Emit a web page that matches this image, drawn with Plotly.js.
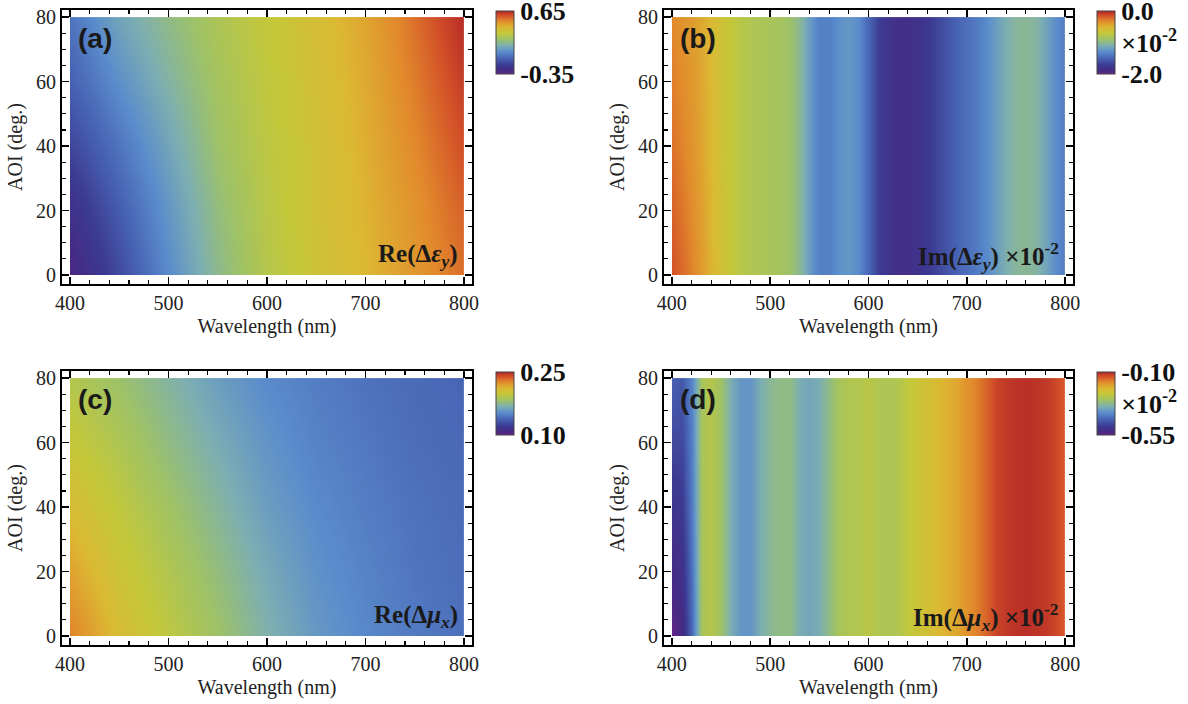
<!DOCTYPE html>
<html><head><meta charset="utf-8">
<script src="https://cdn.plot.ly/plotly-3.0.1.min.js"></script>
<style>body{margin:0;background:#fff}#chart{width:1188px;height:704px}</style>
</head><body><div id="chart"></div>
<script>
// ---------- DATA ----------
// Panels (a) and (c): coarse grid
const wavelengthCoarse = [400, 450, 500, 550, 600, 650, 700, 750, 800];
const aoiCoarse = [0, 20, 40, 60, 80];
// (a) Re(Δε_y), one row per AOI
const reEpsY_aoi0  = [-0.32, -0.17, 0.00, 0.15, 0.26, 0.33, 0.39, 0.46, 0.53];
const reEpsY_aoi20 = [-0.26, -0.12, 0.03, 0.17, 0.27, 0.34, 0.40, 0.47, 0.55];
const reEpsY_aoi40 = [-0.18, -0.06, 0.07, 0.20, 0.28, 0.34, 0.41, 0.49, 0.58];
const reEpsY_aoi60 = [-0.11, 0.01, 0.12, 0.22, 0.29, 0.35, 0.42, 0.51, 0.61];
const reEpsY_aoi80 = [-0.06, 0.07, 0.16, 0.24, 0.30, 0.36, 0.43, 0.53, 0.64];
// (c) Re(Δμ_x)
const reMuX_aoi0  = [0.228, 0.208, 0.195, 0.183, 0.169, 0.158, 0.151, 0.146, 0.142];
const reMuX_aoi20 = [0.218, 0.202, 0.190, 0.178, 0.165, 0.155, 0.149, 0.144, 0.141];
const reMuX_aoi40 = [0.208, 0.196, 0.184, 0.172, 0.160, 0.152, 0.147, 0.143, 0.140];
const reMuX_aoi60 = [0.199, 0.189, 0.177, 0.166, 0.156, 0.149, 0.145, 0.141, 0.139];
const reMuX_aoi80 = [0.191, 0.182, 0.171, 0.160, 0.152, 0.147, 0.143, 0.140, 0.138];

// Panels (b) and (d): fine grid in wavelength
const wavelengthFine = [400,410,420,430,440,450,460,470,480,490,500,510,520,530,540,550,560,570,580,590,
  600,610,620,630,640,650,660,670,680,690,700,710,720,730,740,750,760,770,780,790,800];
const aoiFine = [0, 40, 80];
// (b) Im(Δε_y) ×10^-2
const imEpsY_aoi0  = [-0.15,-0.22,-0.30,-0.40,-0.50,-0.60,-0.69,-0.76,-0.80,-0.82,-0.84,-0.86,-0.90,-1.02,-1.22,-1.36,-1.36,-1.28,-1.24,-1.30,
  -1.50,-1.68,-1.78,-1.84,-1.84,-1.80,-1.74,-1.66,-1.58,-1.50,-1.44,-1.38,-1.30,-1.20,-1.10,-1.04,-1.02,-1.06,-1.16,-1.28,-1.38];
const imEpsY_aoi40 = [-0.25,-0.30,-0.36,-0.44,-0.52,-0.62,-0.70,-0.76,-0.80,-0.82,-0.84,-0.86,-0.90,-1.02,-1.22,-1.36,-1.36,-1.28,-1.24,-1.30,
  -1.50,-1.68,-1.78,-1.84,-1.84,-1.80,-1.74,-1.66,-1.58,-1.50,-1.44,-1.38,-1.30,-1.20,-1.10,-1.04,-1.02,-1.06,-1.16,-1.28,-1.38];
const imEpsY_aoi80 = [-0.32,-0.36,-0.40,-0.46,-0.53,-0.62,-0.70,-0.76,-0.80,-0.82,-0.84,-0.86,-0.90,-1.02,-1.22,-1.36,-1.36,-1.28,-1.24,-1.30,
  -1.50,-1.68,-1.78,-1.84,-1.84,-1.80,-1.74,-1.66,-1.58,-1.50,-1.44,-1.38,-1.30,-1.20,-1.10,-1.04,-1.02,-1.06,-1.16,-1.28,-1.38];
// (d) Im(Δμ_x) ×10^-2
const imMuX_aoi0  = [-0.545,-0.53,-0.43,-0.29,-0.275,-0.30,-0.35,-0.38,-0.38,-0.35,-0.33,-0.32,-0.32,-0.35,-0.36,-0.35,-0.32,-0.29,-0.28,-0.28,
  -0.27,-0.28,-0.285,-0.28,-0.26,-0.245,-0.235,-0.22,-0.21,-0.20,-0.18,-0.165,-0.145,-0.125,-0.115,-0.11,-0.108,-0.11,-0.115,-0.125,-0.14];
const imMuX_aoi40 = [-0.50,-0.49,-0.41,-0.29,-0.275,-0.30,-0.35,-0.38,-0.38,-0.35,-0.33,-0.32,-0.32,-0.35,-0.36,-0.35,-0.32,-0.29,-0.28,-0.28,
  -0.27,-0.28,-0.285,-0.28,-0.26,-0.245,-0.235,-0.22,-0.21,-0.20,-0.18,-0.165,-0.145,-0.125,-0.115,-0.11,-0.108,-0.11,-0.115,-0.125,-0.14];
const imMuX_aoi80 = [-0.44,-0.45,-0.40,-0.29,-0.275,-0.30,-0.35,-0.38,-0.38,-0.35,-0.33,-0.32,-0.32,-0.35,-0.36,-0.35,-0.32,-0.29,-0.28,-0.28,
  -0.27,-0.28,-0.285,-0.28,-0.26,-0.245,-0.235,-0.22,-0.21,-0.20,-0.18,-0.165,-0.145,-0.125,-0.115,-0.11,-0.108,-0.11,-0.115,-0.125,-0.14];

// colour bar limits and labels
const cbA = {min:-0.35, max:0.65, labels:['-0.35','0.65']};
const cbB = {min:-2.0, max:0.0, labels:['-2.0','×10<sup>-2</sup>','0.0']};
const cbC = {min:0.10, max:0.25, labels:['0.10','0.25']};
const cbD = {min:-0.55, max:-0.10, labels:['-0.55','×10<sup>-2</sup>','-0.10']};

const panelLetters = ['(a)','(b)','(c)','(d)'];
const panelLabels = [
  '<b>Re(Δ<i>ε</i><sub><i>y</i></sub>)</b>',
  '<b>Im(Δ<i>ε</i><sub><i>y</i></sub>) ×10<sup>-2</sup></b>',
  '<b>Re(Δ<i>μ</i><sub><i>x</i></sub>)</b>',
  '<b>Im(Δ<i>μ</i><sub><i>x</i></sub>) ×10<sup>-2</sup></b>'
];

// ---------- STYLE / LAYOUT ----------
const W = 1188, H = 704;
const fx = p => p / W, fy = p => 1 - p / H;
const XR = [392, 808], YR = [-2.8, 82.2];
const frames = [[62,472,10,284],[664,1073,10,284],[62,472,371,645],[664,1073,371,645]]; // l,r,t,b px
const rainbow = [
 [0.00,'rgb(104,36,138)'],
 [0.05,'rgb(70,42,132)'],
 [0.14,'rgb(60,58,146)'],
 [0.25,'rgb(72,100,180)'],
 [0.35,'rgb(90,140,205)'],
 [0.45,'rgb(125,175,178)'],
 [0.55,'rgb(158,194,104)'],
 [0.65,'rgb(196,200,58)'],
 [0.74,'rgb(220,184,50)'],
 [0.84,'rgb(226,138,44)'],
 [0.93,'rgb(210,78,40)'],
 [1.00,'rgb(178,38,38)']
];
const serif = 'Liberation Serif, Times New Roman, serif';

const zA = [reEpsY_aoi0, reEpsY_aoi20, reEpsY_aoi40, reEpsY_aoi60, reEpsY_aoi80];
const zB = [imEpsY_aoi0, imEpsY_aoi40, imEpsY_aoi80];
const zC = [reMuX_aoi0, reMuX_aoi20, reMuX_aoi40, reMuX_aoi60, reMuX_aoi80];
const zD = [imMuX_aoi0, imMuX_aoi40, imMuX_aoi80];
const panels = [
  {x: wavelengthCoarse, y: aoiCoarse, z: zA, cb: cbA},
  {x: wavelengthFine, y: aoiFine, z: zB, cb: cbB},
  {x: wavelengthCoarse, y: aoiCoarse, z: zC, cb: cbC},
  {x: wavelengthFine, y: aoiFine, z: zD, cb: cbD}
];

const data = [], layout = {
  width: W, height: H, margin: {l:0, r:0, t:0, b:0},
  paper_bgcolor: '#fff', plot_bgcolor: 'rgba(0,0,0,0)', showlegend: false,
  annotations: []
};

panels.forEach((p, i) => {
  const [l, r, t, b] = frames[i];
  const n = i + 1, m = i + 5;
  const sx = (r - l) / (XR[1] - XR[0]), sy = (b - t) / (YR[1] - YR[0]);
  const dl = l + (400 - XR[0]) * sx, dr = l + (800 - XR[0]) * sx;
  const dt = t + (YR[1] - 80) * sy, db = t + (YR[1] - 0) * sy;
  const cbVals = p.cb.labels.length === 3 ? [p.cb.min, (p.cb.min + p.cb.max) / 2, p.cb.max] : [p.cb.min, p.cb.max];
  data.push({
    type: 'heatmap', x: p.x, y: p.y, z: p.z, zsmooth: 'best',
    zmin: p.cb.min, zmax: p.cb.max, colorscale: rainbow,
    xaxis: 'x' + (n === 1 ? '' : n), yaxis: 'y' + (n === 1 ? '' : n), hoverinfo: 'skip',
    colorbar: {
      x: fx(r + 24), xanchor: 'left', xpad: 0, y: fy(t + 1), yanchor: 'top', ypad: 0,
      len: 63, lenmode: 'pixels', thickness: 18, thicknessmode: 'pixels',
      outlinewidth: 1, outlinecolor: '#444', ticks: '', ticklen: 0,
      tickmode: 'array', tickvals: cbVals, ticktext: p.cb.labels, ticklabeloverflow: 'allow',
      tickfont: {family: serif, size: 26, weight: 700, color: '#111'}
    }
  });
  data.push({type: 'scatter', x: [null], y: [null], xaxis: 'x' + m, yaxis: 'y' + m, hoverinfo: 'skip', showlegend: false});
  // data axes (hidden, exact data extent)
  layout['xaxis' + (n === 1 ? '' : n)] = {domain: [fx(dl), fx(dr)], range: [400, 800], visible: false, anchor: 'y' + (n === 1 ? '' : n), fixedrange: true};
  layout['yaxis' + (n === 1 ? '' : n)] = {domain: [fy(db), fy(dt)], range: [0, 80], visible: false, anchor: 'x' + (n === 1 ? '' : n), fixedrange: true};
  // frame axes
  const common = {
    showline: true, linewidth: 2, linecolor: '#000', mirror: 'allticks',
    ticks: 'inside', ticklen: 7, tickwidth: 1.5, tickcolor: '#000',
    showgrid: false, zeroline: false, fixedrange: true,
    tickfont: {family: serif, size: 20, color: '#222'}
  };
  layout['xaxis' + m] = Object.assign({}, common, {
    domain: [fx(l), fx(r)], range: XR, anchor: 'y' + m,
    tickmode: 'linear', tick0: 400, dtick: 100,
    minor: {tick0: 400, dtick: 20, ticks: 'inside', ticklen: 4, tickwidth: 1.2, tickcolor: '#000', showgrid: false},
    title: {text: 'Wavelength (nm)', font: {family: serif, size: 20, color: '#222'}, standoff: 6}
  });
  layout['yaxis' + m] = Object.assign({}, common, {
    domain: [fy(b), fy(t)], range: YR, anchor: 'x' + m,
    tickmode: 'linear', tick0: 0, dtick: 20,
    minor: {tick0: 0, dtick: 5, ticks: 'inside', ticklen: 4, tickwidth: 1.2, tickcolor: '#000', showgrid: false},
    title: {text: 'AOI (deg.)', font: {family: serif, size: 20, color: '#222'}, standoff: 8}
  });
  layout.annotations.push({
    xref: 'paper', yref: 'paper', x: fx(dl + 6), y: fy(dt + 21), xanchor: 'left', yanchor: 'middle',
    text: panelLetters[i], showarrow: false,
    font: {family: 'Liberation Sans, Arial, sans-serif', size: 28, weight: 700, color: '#1a1a1a'}
  });
  layout.annotations.push({
    xref: 'paper', yref: 'paper', x: fx(dr - 4), y: fy(db - 19), xanchor: 'right', yanchor: 'middle',
    text: panelLabels[i], showarrow: false,
    font: {family: serif, size: 25, color: '#1a1a1a'}
  });
});

Plotly.newPlot('chart', data, layout, {staticPlot: true});
</script></body></html>
